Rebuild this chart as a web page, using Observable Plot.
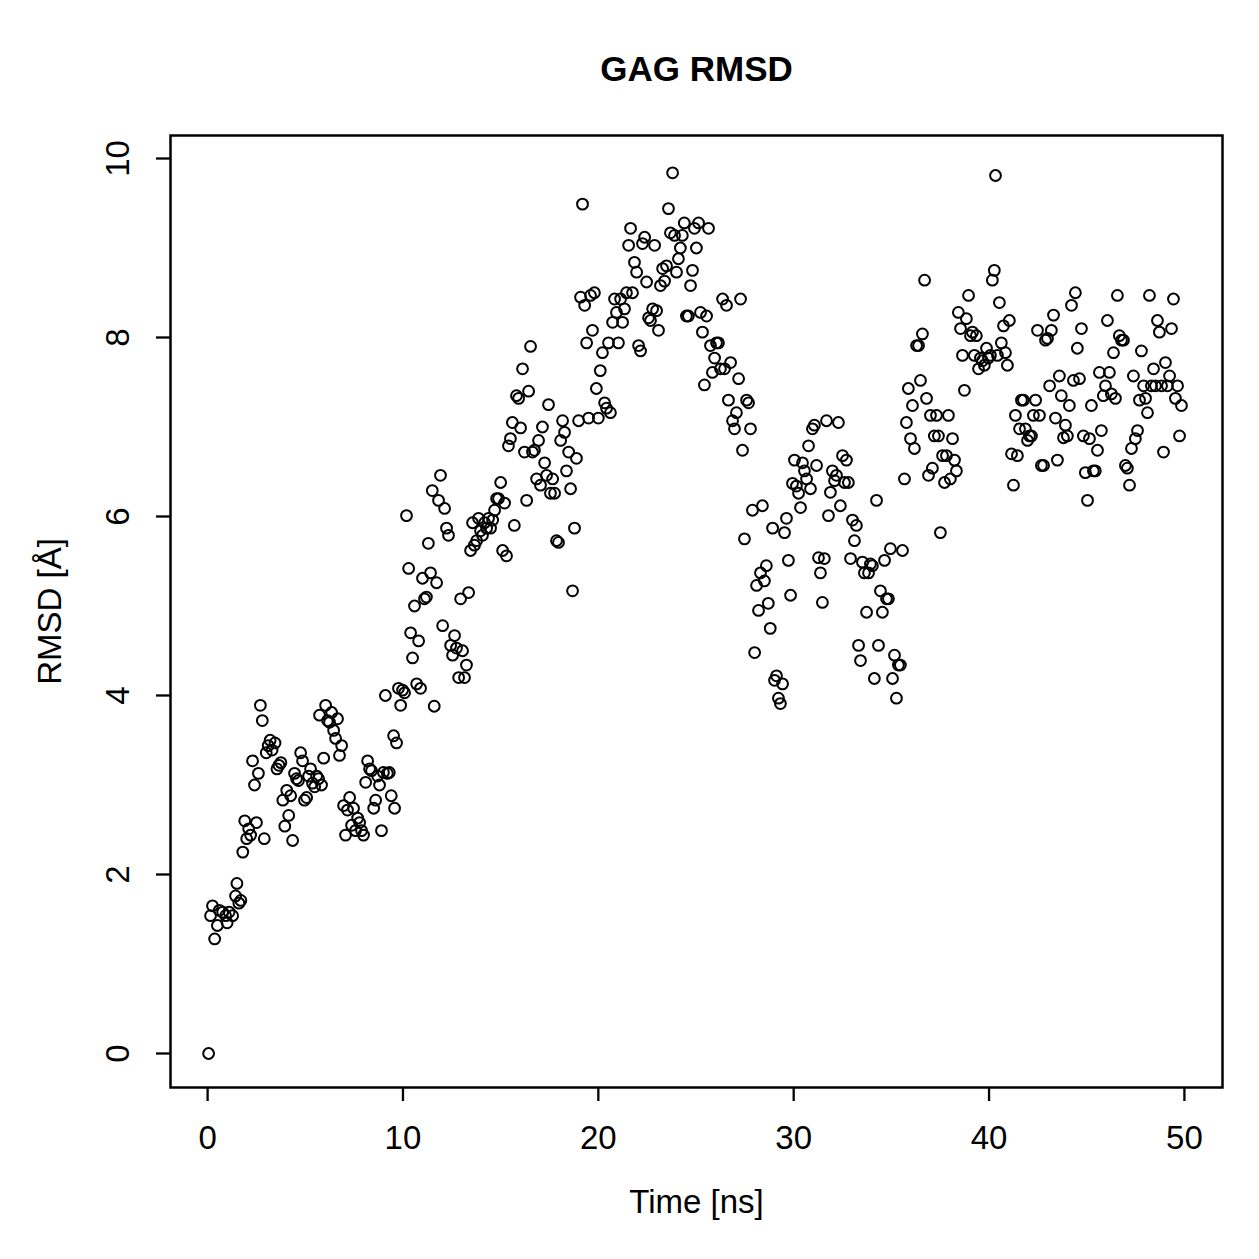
<!DOCTYPE html>
<html>
<head>
<meta charset="utf-8">
<script src="https://cdn.jsdelivr.net/npm/d3@7"></script>
<script src="https://cdn.jsdelivr.net/npm/@observablehq/plot@0.6"></script>
<style>
  html, body { margin: 0; padding: 0; background: #fff; }
  #chart svg { display: block; }
</style>
</head>
<body>
<div id="chart"></div>
<script>
const title = "GAG RMSD";
const xLabel = "Time [ns]";
const yLabel = "RMSD [Å]";
const xTicks = [0, 10, 20, 30, 40, 50];
const yTicks = [0, 2, 4, 6, 8, 10];

const time = [
0.05,0.15,0.25,0.36,0.5,0.6,0.77,0.92,1.0,1.1,1.28,1.43,1.5,1.6,1.7,1.8,1.9,2.0,2.1,2.2,
2.3,2.4,2.5,2.6,2.7,2.8,2.9,3.0,3.1,3.2,3.3,3.45,3.55,3.65,3.75,3.85,3.95,4.05,4.15,4.25,
4.35,4.45,4.55,4.65,4.76,4.86,4.96,5.07,5.17,5.27,5.37,5.48,5.58,5.68,5.73,5.83,5.94,6.04,6.14,6.24,
6.35,6.45,6.55,6.65,6.75,6.86,6.96,7.06,7.16,7.27,7.37,7.47,7.57,7.68,7.78,7.88,7.98,8.09,8.19,8.29,
8.39,8.5,8.6,8.7,8.8,8.9,9.0,9.1,9.2,9.3,9.4,9.52,9.57,9.67,9.77,9.88,9.98,10.08,10.18,10.29,
10.39,10.49,10.59,10.7,10.8,10.9,11.0,11.1,11.2,11.3,11.41,11.5,11.6,11.72,11.82,11.92,12.03,12.13,12.23,12.33,
12.44,12.54,12.64,12.74,12.85,12.95,13.05,13.15,13.25,13.36,13.46,13.56,13.66,13.77,13.87,13.97,14.07,14.18,14.28,14.38,
14.48,14.59,14.69,14.79,14.89,15.0,15.1,15.2,15.3,15.4,15.5,15.6,15.7,15.81,15.92,16.02,16.12,16.22,16.33,16.43,
16.53,16.63,16.73,16.84,16.94,17.04,17.14,17.25,17.35,17.45,17.55,17.66,17.76,17.86,17.96,18.07,18.17,18.27,18.37,18.48,
18.58,18.68,18.78,18.88,18.99,19.09,19.19,19.3,19.4,19.5,19.6,19.7,19.8,19.9,20.0,20.1,20.21,20.32,20.42,20.52,
20.62,20.73,20.83,20.93,21.03,21.14,21.24,21.34,21.44,21.55,21.65,21.75,21.85,21.96,22.06,22.16,22.26,22.37,22.47,22.57,
22.67,22.78,22.88,22.98,23.08,23.18,23.29,23.39,23.49,23.59,23.69,23.8,23.9,24.0,24.1,24.2,24.3,24.4,24.51,24.61,
24.72,24.82,24.92,25.02,25.13,25.23,25.33,25.43,25.54,25.64,25.74,25.84,25.95,26.05,26.15,26.25,26.36,26.46,26.56,26.66,
26.77,26.87,26.97,27.07,27.18,27.28,27.38,27.48,27.59,27.69,27.79,27.89,28.0,28.1,28.2,28.3,28.4,28.5,28.6,28.7,
28.8,28.92,29.02,29.12,29.22,29.32,29.43,29.53,29.63,29.73,29.84,29.94,30.04,30.14,30.25,30.35,30.45,30.55,30.66,30.76,
30.86,30.96,31.06,31.17,31.27,31.37,31.47,31.57,31.68,31.78,31.88,31.98,32.09,32.19,32.29,32.39,32.5,32.6,32.7,32.8,
32.91,33.01,33.11,33.21,33.32,33.42,33.52,33.62,33.73,33.83,33.93,34.03,34.13,34.24,34.34,34.44,34.54,34.65,34.75,34.85,
34.95,35.06,35.16,35.26,35.36,35.46,35.57,35.67,35.77,35.87,35.98,36.08,36.18,36.29,36.39,36.49,36.59,36.7,36.8,36.9,
37.0,37.1,37.2,37.31,37.41,37.51,37.62,37.72,37.82,37.92,38.02,38.13,38.23,38.33,38.43,38.54,38.64,38.74,38.84,38.95,
39.05,39.15,39.25,39.35,39.46,39.56,39.66,39.76,39.87,39.97,40.07,40.17,40.27,40.33,40.43,40.53,40.63,40.74,40.84,40.94,
41.04,41.15,41.25,41.35,41.45,41.56,41.66,41.76,41.86,41.97,42.07,42.17,42.27,42.38,42.48,42.58,42.68,42.79,42.89,42.99,
43.1,43.19,43.3,43.4,43.5,43.6,43.7,43.81,43.91,44.01,44.11,44.22,44.32,44.42,44.52,44.63,44.73,44.83,44.93,45.04,
45.14,45.24,45.34,45.44,45.55,45.65,45.75,45.85,45.96,46.06,46.16,46.26,46.37,46.47,46.57,46.67,46.78,46.88,46.98,47.08,
47.19,47.29,47.39,47.49,47.6,47.7,47.8,47.91,48.01,48.11,48.21,48.31,48.42,48.52,48.62,48.72,48.83,48.93,49.03,49.13,
49.24,49.34,49.44,49.54,49.65,49.75,49.85
];

const rmsd = [
0.0,1.54,1.65,1.28,1.43,1.6,1.58,1.54,1.46,1.58,1.54,1.76,1.9,1.68,1.71,2.25,2.6,2.4,2.51,2.44,
3.27,3.0,2.58,3.13,3.89,3.72,2.4,3.36,3.44,3.5,3.39,3.47,3.18,3.22,3.25,2.83,2.54,2.94,2.66,2.88,
2.38,3.13,3.07,3.05,3.36,3.27,2.83,2.86,3.1,3.18,3.02,2.98,3.1,3.07,3.78,3.0,3.3,3.89,3.72,3.7,
3.81,3.61,3.52,3.74,3.33,3.44,2.77,2.44,2.72,2.86,2.55,2.74,2.49,2.63,2.58,2.49,2.44,3.03,3.27,3.18,
3.16,2.74,2.83,3.1,3.0,2.49,3.14,4.0,3.13,3.14,2.88,3.55,2.74,3.47,4.08,3.89,4.06,4.03,6.01,5.42,
4.7,4.42,5.0,4.13,4.61,4.08,5.31,5.08,5.1,5.7,5.37,6.29,3.88,5.26,6.18,6.46,4.78,6.09,5.87,5.79,
4.56,4.45,4.67,4.53,4.2,5.08,4.5,4.2,4.34,5.15,5.62,5.93,5.68,5.73,5.98,5.84,5.79,5.93,5.87,5.98,
5.87,5.96,6.07,6.2,6.2,6.38,5.62,6.15,5.56,6.79,6.87,7.05,5.9,7.35,7.32,6.99,7.65,6.72,6.18,7.4,
7.9,6.72,6.74,6.42,6.85,6.35,7.0,6.6,6.46,7.25,6.26,6.42,6.26,5.73,5.71,6.85,7.07,6.94,6.51,6.72,
6.31,5.17,5.87,6.65,7.07,8.45,9.49,8.36,7.94,7.1,8.47,8.08,8.5,7.43,7.1,7.63,7.83,7.27,7.21,7.94,
7.16,8.17,8.43,8.28,7.94,8.43,8.17,8.32,8.5,9.03,9.22,8.5,8.84,8.73,7.91,7.85,9.05,9.12,8.62,8.22,
8.19,8.32,9.03,8.3,8.08,8.58,8.77,8.63,8.8,9.44,9.17,9.84,9.14,8.73,8.88,9.0,9.14,9.28,8.24,8.24,
8.58,8.75,9.22,9.0,9.28,8.28,8.06,7.47,8.24,9.22,7.91,7.61,7.77,7.94,7.94,7.65,8.43,7.65,8.36,7.3,
7.72,7.07,6.98,7.16,7.54,8.43,6.74,5.75,7.3,7.27,6.98,6.07,4.48,5.23,4.95,5.37,6.12,5.28,5.45,5.03,
4.75,5.87,4.17,4.22,3.97,3.91,4.13,5.82,5.98,5.51,5.12,6.37,6.63,6.34,6.26,6.1,6.6,6.51,6.42,6.79,
6.31,6.98,7.02,6.57,5.54,5.37,5.04,5.53,7.07,6.01,6.27,6.51,6.4,6.46,7.05,6.12,6.68,6.38,6.63,6.38,
5.53,5.96,5.73,5.9,4.56,4.39,5.49,5.37,4.93,5.37,5.47,5.45,4.19,6.18,4.56,5.17,4.93,5.51,5.08,5.08,
5.64,4.19,4.45,3.97,4.34,4.34,5.62,6.42,7.05,7.43,6.87,7.24,6.76,7.91,7.91,7.52,8.04,8.64,7.32,6.46,
7.13,6.54,6.9,7.13,6.9,5.82,6.68,6.38,6.68,7.13,6.42,6.87,6.63,6.51,8.28,8.1,7.8,7.41,8.21,8.47,
8.02,8.06,7.8,8.02,7.65,7.77,7.74,7.69,7.88,7.77,7.8,8.64,8.75,9.81,7.8,8.39,7.94,8.13,7.83,7.69,
8.19,6.7,6.35,7.13,6.68,6.98,7.3,7.3,6.98,6.85,6.9,6.9,7.13,7.3,8.08,7.13,6.57,6.57,7.97,7.99,
7.46,8.08,8.25,7.1,6.63,7.57,7.35,6.88,7.02,6.9,7.24,8.36,7.52,8.5,7.88,7.54,8.1,6.9,6.49,6.18,
6.87,7.24,6.51,6.51,6.74,7.61,6.96,7.35,7.46,8.19,7.61,7.37,7.83,7.32,8.47,8.02,7.97,7.97,6.57,6.54,
6.35,6.76,7.57,6.87,6.96,7.3,7.85,7.46,7.32,7.16,8.47,7.46,7.65,7.46,8.19,8.06,7.46,6.72,7.72,7.46,
7.57,8.1,8.43,7.32,7.46,6.9,7.24
];

const data = time.map((t, i) => ({t, r: rmsd[i]}));

const W = 1259, H = 1259;
const mL = 170, mR = 37, mT = 135, mB = 172;
const font = "'Liberation Sans', Arial, Helvetica, sans-serif";

const chart = Plot.plot({
  width: W,
  height: H,
  marginLeft: mL,
  marginRight: mR,
  marginTop: mT,
  marginBottom: mB,
  style: {fontFamily: font, background: "#fff", color: "#000", overflow: "visible"},
  x: {domain: [-1.9, 51.95]},
  y: {domain: [-0.38, 10.257]},
  marks: [
    Plot.axisX({ticks: xTicks, tickSize: 14, tickFormat: () => "", label: null, stroke: "#000", strokeWidth: 2.3}),
    Plot.axisY({ticks: yTicks, tickSize: 14, tickFormat: () => "", label: null, stroke: "#000", strokeWidth: 2.3}),
    Plot.text(xTicks, {x: d => d, text: d => String(d), frameAnchor: "bottom", lineAnchor: "middle", textAnchor: "middle", dy: 51, fontSize: 33, fill: "#000"}),
    Plot.text(yTicks, {y: d => d, text: d => String(d), frameAnchor: "left", lineAnchor: "middle", textAnchor: "middle", dx: -52, rotate: -90, fontSize: 33, fill: "#000"}),
    Plot.text([xLabel], {frameAnchor: "bottom", lineAnchor: "middle", textAnchor: "middle", dy: 115, fontSize: 33, fill: "#000"}),
    Plot.text([yLabel], {frameAnchor: "left", lineAnchor: "middle", textAnchor: "middle", dx: -120, rotate: -90, fontSize: 33, fill: "#000"}),
    Plot.text([title], {frameAnchor: "top", lineAnchor: "middle", textAnchor: "middle", dy: -66, fontSize: 35, fontWeight: "bold", fill: "#000"}),
    Plot.dot(data, {x: "t", y: "r", r: 5.4, stroke: "#000", strokeWidth: 2, fill: "none"}),
    Plot.frame({stroke: "#000", strokeWidth: 2.5})
  ]
});

document.getElementById("chart").appendChild(chart);
</script>
</body>
</html>
